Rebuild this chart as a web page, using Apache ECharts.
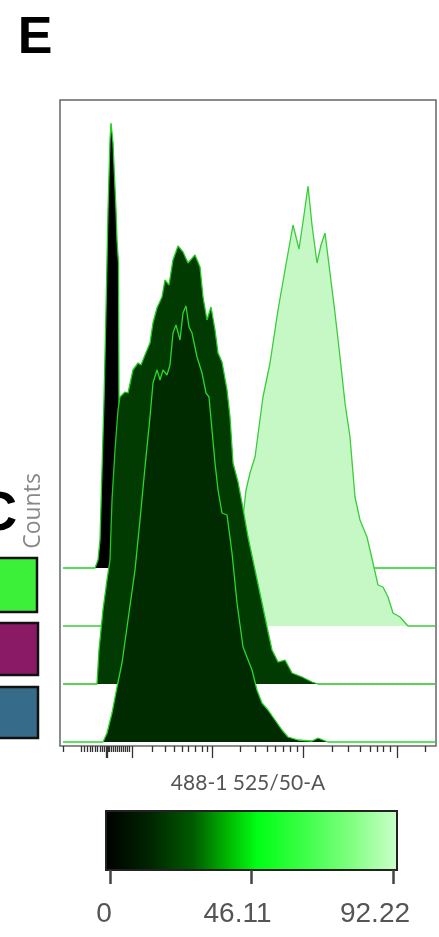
<!DOCTYPE html>
<html>
<head>
<meta charset="utf-8">
<script src="https://cdn.jsdelivr.net/npm/echarts@6/dist/echarts.min.js"></script>
<style>
  html, body { margin: 0; padding: 0; background: #fff; }
  #chart { width: 439px; height: 937px; }
</style>
</head>
<body>
<div id="chart"></div>
<script>
// x 通道值 (0-752), counts 为各直方图高度
const chA = [6, 70, 76, 80, 84, 88, 92, 96, 100, 102, 106, 112, 114, 116, 117, 118, 122, 128, 750];
const cntA = [0, 0, 8, 28, 98, 168, 258, 358, 428, 445, 425, 358, 328, 326, 305, 168, 68, 0, 0];

const chB = [6, 336, 344, 354, 362, 366, 372, 380, 390, 406, 420, 436, 450, 466, 478, 488, 496, 504, 514, 522, 530, 540, 550, 560, 570, 580, 590, 600, 614, 626, 636, 646, 656, 666, 680, 696, 750];
const cntB = [0, 0, 26, 66, 96, 109, 136, 153, 169, 229, 263, 316, 356, 401, 377, 411, 440, 401, 363, 381, 393, 353, 313, 269, 223, 189, 129, 106, 89, 63, 41, 39, 29, 13, 9, 0, 0];

const chC = [6, 74, 78, 86, 94, 100, 104, 110, 116, 120, 130, 136, 146, 156, 162, 170, 180, 186, 194, 204, 210, 218, 226, 236, 246, 256, 270, 280, 286, 294, 302, 310, 316, 324, 334, 340, 346, 356, 364, 376, 390, 404, 414, 424, 436, 450, 464, 484, 504, 516, 750];
const cntC = [0, 0, 34, 74, 104, 124, 184, 234, 274, 287, 292, 291, 314, 321, 319, 329, 341, 361, 376, 387, 404, 399, 424, 438, 432, 421, 429, 417, 387, 364, 377, 354, 331, 322, 294, 267, 221, 202, 181, 147, 114, 81, 57, 34, 22, 24, 11, 7, 2, 0, 0];

const chD = [6, 86, 94, 104, 114, 124, 136, 150, 160, 170, 180, 186, 194, 200, 206, 214, 220, 226, 232, 240, 246, 252, 258, 264, 274, 284, 292, 298, 304, 310, 316, 324, 334, 344, 354, 366, 384, 394, 404, 416, 430, 444, 456, 476, 504, 516, 536, 750];
const cntD = [0, 0, 9, 29, 55, 79, 122, 172, 222, 275, 325, 359, 372, 362, 372, 367, 377, 409, 417, 402, 429, 436, 415, 409, 385, 369, 349, 345, 312, 279, 252, 229, 227, 189, 139, 95, 72, 52, 39, 32, 22, 12, 5, 2, 1, 4, 0, 0];

// 堆叠偏移 (每条直方图的基线)
const offsets = [178, 120, 62, 4];

// x 轴刻度
const majorTicks = [92, 95, 144, 304, 486, 674];
const minorTicks = [6, 43, 49, 55, 60, 65, 70, 75, 80, 85, 89, 97, 99, 102, 106, 110, 114, 118, 122, 126, 130, 134, 138,
  184, 210, 228, 244, 256, 270, 284, 294, 360, 390, 414, 430, 446, 460, 474,
  544, 576, 600, 620, 634, 646, 660, 730];

// 色条
const barTicks = [0, 46.11, 92.22];

const chart = echarts.init(document.getElementById("chart"));

function hist(ch, cnt, off, fill, line, z) {
  return {
    type: "line",
    xAxisIndex: 0,
    yAxisIndex: 0,
    z: z,
    symbol: "none",
    smooth: false,
    data: ch.map((x, i) => [x, off + cnt[i]]),
    lineStyle: { color: line, width: 1.3 },
    areaStyle: { color: fill, opacity: 1, origin: off },
  };
}

chart.setOption({
  animation: false,
  grid: [
    {
      left: 60, right: 3, top: 100, bottom: 191,
      show: true, borderColor: "#666", borderWidth: 1.5,
    },
    { left: 110, width: 283, top: 811, height: 59 },
  ],
  xAxis: [
    {
      gridIndex: 0, type: "value", min: 0, max: 752, position: "bottom",
      axisLine: { show: false },
      splitLine: { show: false },
      axisLabel: { show: false },
      axisTick: { show: true, customValues: majorTicks, length: 12, lineStyle: { color: "#333", width: 1.3 } },
      name: "488-1 525/50-A",
      nameLocation: "middle",
      nameGap: 27,
      nameTextStyle: { fontFamily: "Lato", fontSize: 21, color: "#555" },
    },
    {
      gridIndex: 0, type: "value", min: 0, max: 752, position: "bottom",
      axisLine: { show: false },
      splitLine: { show: false },
      axisLabel: { show: false },
      axisTick: { show: true, customValues: minorTicks, length: 6, lineStyle: { color: "#333", width: 1.3 } },
    },
    {
      gridIndex: 1, type: "value", min: 0, max: 92.22, position: "bottom",
      axisLine: { show: false },
      splitLine: { show: false },
      axisTick: { show: true, customValues: barTicks, length: 14, lineStyle: { color: "#444", width: 2.5 } },
      axisLabel: {
        show: true,
        customValues: barTicks,
        margin: 30,
        fontFamily: "Liberation Sans",
        fontSize: 28,
        color: "#555",
        formatter: function (v) {
          if (v === 0) return "{a|0}";
          if (v === 46.11) return "{b|46.11}";
          return "{c|92.22}";
        },
        rich: {
          a: { fontFamily: "Liberation Sans", fontSize: 28, color: "#555", padding: [0, 12, 0, 0] },
          b: { fontFamily: "Liberation Sans", fontSize: 28, color: "#555", padding: [0, 28, 0, 0] },
          c: { fontFamily: "Liberation Sans", fontSize: 28, color: "#555", padding: [0, 36, 0, 0] },
        },
      },
    },
  ],
  yAxis: [
    { gridIndex: 0, type: "value", min: 0, max: 646, show: false },
    { gridIndex: 1, type: "value", min: 0, max: 1, show: false },
  ],
  series: [
    hist(chA, cntA, offsets[0], "#000000", "#22d022", 2),
    hist(chB, cntB, offsets[1], "#c6f8c6", "#3acc3a", 3),
    hist(chC, cntC, offsets[2], "#013b01", "#22c822", 4),
    hist(chD, cntD, offsets[3], "#002a00", "#2ad82a", 5),
  ],
  graphic: [
    {
      type: "text", x: 35, y: 39,
      style: { text: "E", fontFamily: "Liberation Sans", fontWeight: "bold", fontSize: 52, fill: "#000", align: "center", verticalAlign: "middle" },
    },
    {
      type: "text", x: -3, y: 515,
      style: { text: "C", fontFamily: "Liberation Sans", fontWeight: "bold", fontSize: 56, fill: "#000", align: "center", verticalAlign: "middle" },
    },
    {
      type: "text", x: 33, y: 511, rotation: Math.PI / 2,
      style: { text: "Counts", fontFamily: "Open Sans", fontSize: 23, fill: "#888", align: "center", verticalAlign: "middle" },
    },
    {
      type: "rect", shape: { x: -10, y: 558, width: 47, height: 54 },
      style: { fill: "#3cf03a", stroke: "#111", lineWidth: 2.5 },
    },
    {
      type: "rect", shape: { x: -10, y: 623, width: 48, height: 52 },
      style: { fill: "#8a1a66", stroke: "#111", lineWidth: 2.5 },
    },
    {
      type: "rect", shape: { x: -10, y: 687, width: 48, height: 51 },
      style: { fill: "#366b89", stroke: "#111", lineWidth: 2.5 },
    },
    {
      type: "rect", shape: { x: 106, y: 811, width: 291, height: 59 },
      z: 0,
      style: {
        stroke: "#222", lineWidth: 2,
        fill: new echarts.graphic.LinearGradient(0, 0, 1, 0, [
          { offset: 0, color: "#000000" },
          { offset: 0.15, color: "#002400" },
          { offset: 0.3, color: "#005a00" },
          { offset: 0.42, color: "#00b800" },
          { offset: 0.52, color: "#00ff14" },
          { offset: 0.68, color: "#3cff48" },
          { offset: 0.84, color: "#80ff80" },
          { offset: 1, color: "#ccffcc" },
        ]),
      },
    },
  ],
});
</script>
</body>
</html>
